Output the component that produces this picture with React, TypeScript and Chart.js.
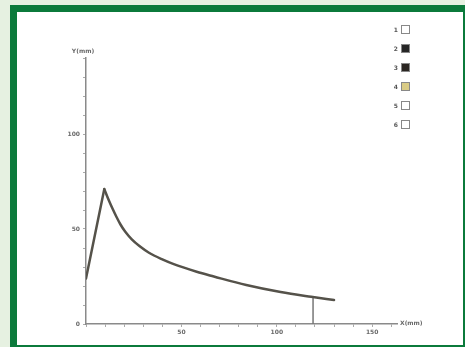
import React, { useEffect, useRef } from 'react';
import { Chart, registerables } from 'chart.js';

Chart.register(...registerables);

// Rising flank of the profile: straight from the start to the peak
const riseX = [0, 9.6];
const riseY = [24, 71];

// Decaying part of the profile, from the peak onwards
const decayX = [9.6, 12, 14, 16, 18, 20.6, 24, 28, 33, 40, 46, 58, 67, 84, 102, 118, 130];
const decayY = [71, 65, 60.5, 56.3, 52.5, 48.5, 44.5, 41, 37.5, 34, 31.5, 27.5, 25, 20.5, 16.8, 14.3, 12.6];

// Vertical marker dropped from the curve to the X axis
const markerX = 119;
const markerTop = 14.2;

const xMax = 163;
const yMax = 140;
const labelStep = 50;
const minorStep = 10;

const legendLabels = ['1', '2', '3', '4', '5', '6'];
const legendFills = ['#ffffff', '#262626', '#2b2622', '#d9cb85', '#ffffff', '#ffffff'];

const curveColor = '#55524a';

const axisTitles = {
  id: 'axisTitles',
  afterDraw(chart: any) {
    const { ctx, chartArea } = chart;
    ctx.save();
    ctx.font = 'bold 6px "DejaVu Sans"';
    ctx.fillStyle = '#6a6a6a';
    ctx.textBaseline = 'middle';
    ctx.textAlign = 'center';
    ctx.fillText('Y(mm)', chartArea.left - 3, chartArea.top - 7);
    ctx.textAlign = 'left';
    ctx.fillText('X(mm)', chartArea.right + 3, chartArea.bottom - 1);
    ctx.restore();
  },
};

export default function App() {
  const canvasRef = useRef<HTMLCanvasElement | null>(null);

  useEffect(() => {
    if (!canvasRef.current) return;
    const tickFont = { family: '"DejaVu Sans"', size: 6, weight: 'bold' as const };
    const chart = new Chart(canvasRef.current, {
      type: 'scatter',
      data: {
        datasets: [
          {
            data: riseX.map((x, i) => ({ x, y: riseY[i] })),
            showLine: true,
            borderColor: curveColor,
            borderWidth: 2.5,
            borderCapStyle: 'round',
            pointRadius: 0,
            tension: 0,
            fill: false,
          },
          {
            data: decayX.map((x, i) => ({ x, y: decayY[i] })),
            showLine: true,
            borderColor: curveColor,
            borderWidth: 2.5,
            borderCapStyle: 'round',
            pointRadius: 0,
            cubicInterpolationMode: 'monotone',
            fill: false,
          },
          {
            data: [
              { x: markerX, y: 0 },
              { x: markerX, y: markerTop },
            ],
            showLine: true,
            borderColor: '#777777',
            borderWidth: 1.5,
            pointRadius: 0,
          },
        ],
      },
      options: {
        animation: false,
        responsive: false,
        devicePixelRatio: 1,
        layout: { padding: { left: 0, top: 58, right: 68, bottom: 0 } },
        plugins: { legend: { display: false }, tooltip: { enabled: false } },
        scales: {
          x: {
            type: 'linear',
            min: 0,
            max: xMax,
            afterFit: (s: any) => {
              s.height = 23;
            },
            border: { color: '#8a8a8a', width: 1.5 },
            grid: { drawOnChartArea: false, drawTicks: true, tickLength: 3, color: '#aaaaaa' },
            ticks: {
              stepSize: minorStep,
              includeBounds: false,
              autoSkip: false,
              maxRotation: 0,
              padding: 2,
              color: '#6a6a6a',
              font: tickFont,
              callback: (v: any) => (v > 0 && v % labelStep === 0 ? String(v) : ''),
            },
          },
          y: {
            type: 'linear',
            min: 0,
            max: yMax,
            afterFit: (s: any) => {
              s.width = 86;
            },
            border: { color: '#8a8a8a', width: 1.5 },
            grid: { drawOnChartArea: false, drawTicks: true, tickLength: 3, color: '#aaaaaa' },
            ticks: {
              stepSize: minorStep,
              includeBounds: false,
              autoSkip: false,
              padding: 3,
              color: '#6a6a6a',
              font: tickFont,
              callback: (v: any) => (v % labelStep === 0 ? String(v) : ''),
            },
          },
        },
      },
      plugins: [axisTitles],
    } as any);
    return () => chart.destroy();
  }, []);

  return (
    <div
      style={{
        position: 'fixed',
        left: 0,
        top: 0,
        width: 465,
        height: 347,
        background: '#e6f1e1',
        overflow: 'hidden',
      }}
    >
      <div
        style={{
          position: 'absolute',
          left: 10,
          top: 5,
          width: 455,
          height: 342,
          boxSizing: 'border-box',
          borderStyle: 'solid',
          borderColor: '#0b7a3b',
          borderWidth: '7px 2px 2px 7px',
          background: '#ffffff',
        }}
      />
      <canvas
        ref={canvasRef}
        width={465}
        height={347}
        style={{ position: 'absolute', left: 0, top: 0, width: 465, height: 347 }}
      />
      {legendLabels.map((label, i) => (
        <div
          key={label}
          style={{
            position: 'absolute',
            left: 380,
            top: 24.5 + i * 19,
            width: 30,
            height: 9,
            display: 'flex',
            alignItems: 'center',
            justifyContent: 'flex-end',
            fontFamily: '"DejaVu Sans"',
            fontWeight: 'bold',
            fontSize: 6,
            color: '#555555',
          }}
        >
          <span style={{ marginRight: 3 }}>{label}</span>
          <span
            style={{
              display: 'inline-block',
              width: 9,
              height: 9,
              boxSizing: 'border-box',
              border: '1px solid #888888',
              background: legendFills[i],
            }}
          />
        </div>
      ))}
    </div>
  );
}
